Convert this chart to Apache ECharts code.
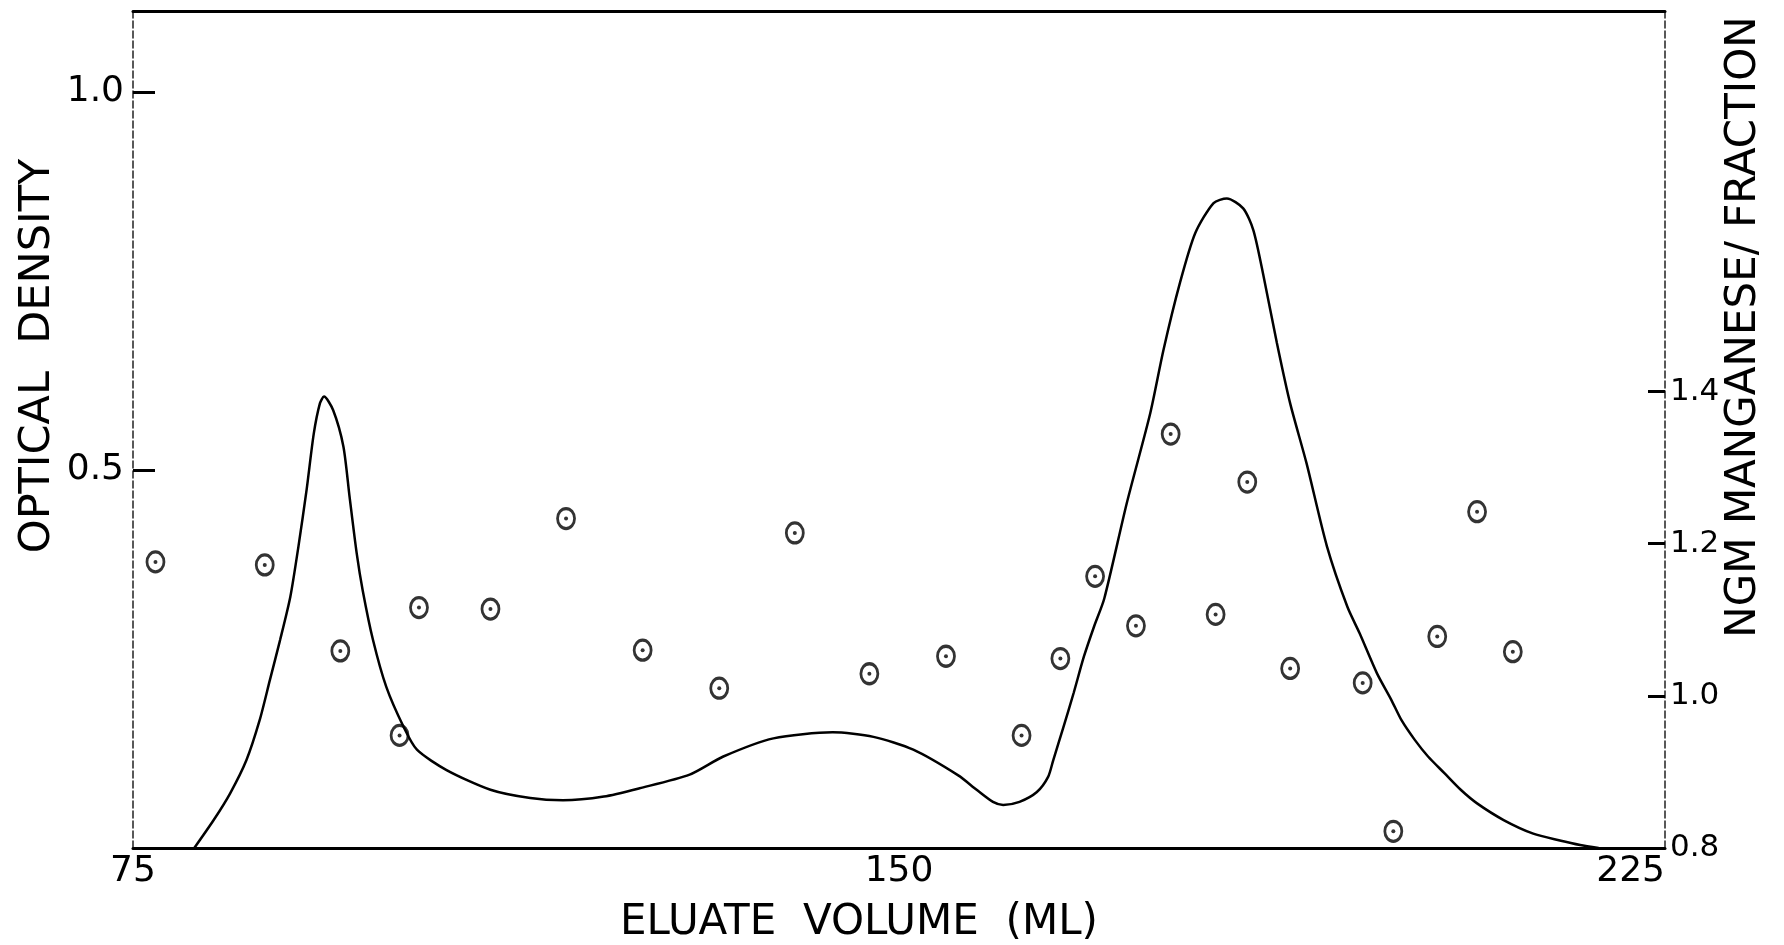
<!DOCTYPE html>
<html>
<head>
<meta charset="utf-8">
<title>Eluate volume</title>
<script src="https://cdn.jsdelivr.net/npm/echarts@6/dist/echarts.min.js"></script>
<style>
html, body { margin: 0; padding: 0; background: #fff; }
#chart { width: 1784px; height: 945px; }
</style>
</head>
<body>
<div id="chart"></div>
<script>
// optical density curve (left axis)
var odVolume = [81.0, 82.9, 84.5, 86.1, 87.4, 88.4, 89.4, 90.4, 91.2, 92.0, 92.7, 93.3, 93.7, 94.6, 95.6,
  96.2, 96.9, 97.5, 98.5, 99.8, 101.5, 102.8, 105.7, 110.0, 113.9, 117.1, 121.1, 124.6, 129.5, 132.8,
  137.7, 143.5, 147.5, 151.4, 155.8, 157.6, 159.2, 160.2, 161.8, 163.5, 164.6, 165.1, 166.1, 167.1,
  168.1, 169.1, 170.1, 172.3, 174.6, 175.9, 177.5, 179.0, 180.8, 182.1, 183.7, 184.7, 185.7, 187.0,
  188.3, 189.9, 191.9, 193.9, 195.1, 196.8, 198.2, 199.2, 200.5, 201.8, 203.4, 205.0, 206.6, 209.2,
  212.1, 214.7, 216.7, 218.5];
var odValue = [0, 0.037, 0.072, 0.116, 0.169, 0.222, 0.275, 0.332, 0.399, 0.474, 0.548, 0.588, 0.597, 0.579, 0.531,
  0.465, 0.390, 0.340, 0.275, 0.213, 0.160, 0.130, 0.103, 0.077, 0.066, 0.063, 0.068, 0.079, 0.097, 0.121,
  0.145, 0.153, 0.147, 0.130, 0.096, 0.077, 0.061, 0.057, 0.061, 0.074, 0.094, 0.116, 0.160, 0.205,
  0.253, 0.293, 0.330, 0.456, 0.575, 0.659, 0.747, 0.813, 0.853, 0.859, 0.846, 0.817, 0.756, 0.668,
  0.588, 0.509, 0.399, 0.319, 0.284, 0.231, 0.196, 0.169, 0.143, 0.121, 0.099, 0.077, 0.059, 0.037,
  0.019, 0.010, 0.004, 0];

// manganese per fraction (right axis)
var mnVolume = [77.2, 87.9, 95.3, 101.1, 103.0, 110.0, 117.4, 124.9, 132.4, 139.8, 147.1, 154.6, 162.0,
  165.8, 169.2, 173.2, 176.6, 181.0, 184.1, 188.3, 195.4, 198.4, 202.7, 206.6, 210.1];
var mnValue = [1.176, 1.172, 1.059, 0.948, 1.116, 1.114, 1.233, 1.060, 1.010, 1.214, 1.029, 1.052, 0.948,
  1.049, 1.157, 1.092, 1.344, 1.107, 1.281, 1.036, 1.017, 0.822, 1.078, 1.242, 1.058];

// tick labels
var xTicks = [75, 150, 225];
var odTicks = [0.5, 1.0];
var mnTicks = [0.8, 1.0, 1.2, 1.4];

var FONT = 'DejaVu Sans';

var odData = odVolume.map(function (v, i) { return [v, odValue[i]]; });
var mnData = mnVolume.map(function (v, i) { return [v, mnValue[i]]; });

var chart = echarts.init(document.getElementById('chart'));
chart.setOption({
  backgroundColor: '#fff',
  animation: false,
  grid: { left: 133, right: 119, top: 11, bottom: 97 },
  xAxis: [{
    type: 'value', min: 75, max: 225, interval: 75, position: 'bottom',
    axisLine: { lineStyle: { color: '#000', width: 3 } },
    axisTick: { show: false },
    splitLine: { show: false },
    axisLabel: {
      customValues: xTicks, margin: 6, color: '#000', fontFamily: FONT, fontSize: 36,
      alignMaxLabel: 'right'
    }
  }, {
    type: 'value', min: 75, max: 225, position: 'top',
    axisLine: { onZero: false, lineStyle: { color: '#000', width: 3 } },
    axisTick: { show: false }, axisLabel: { show: false }, splitLine: { show: false }
  }],
  yAxis: [{
    type: 'value', min: 0, max: 1.107, position: 'left',
    axisLine: { show: true, lineStyle: { color: '#222', width: 1.5, type: [7, 3] } },
    axisTick: { show: true, inside: true, length: 22, customValues: odTicks, lineStyle: { color: '#000', width: 3 } },
    splitLine: { show: false },
    axisLabel: {
      customValues: odTicks, margin: 9, color: '#000', fontFamily: FONT, fontSize: 36,
      formatter: function (v) { return v.toFixed(1); }
    }
  }, {
    type: 'value', min: 0.8, max: 1.9, interval: 0.2, position: 'right',
    axisLine: { show: true, lineStyle: { color: '#222', width: 1.5, type: [7, 3] } },
    axisTick: { show: true, inside: true, length: 17, customValues: mnTicks, lineStyle: { color: '#000', width: 3 } },
    splitLine: { show: false },
    axisLabel: {
      customValues: mnTicks, margin: 5, color: '#000', fontFamily: FONT, fontSize: 31,
      formatter: function (v) { return v.toFixed(1); }
    }
  }],
  series: [{
    type: 'line', xAxisIndex: 0, yAxisIndex: 0, data: odData,
    smooth: 0.25, showSymbol: false,
    lineStyle: { color: '#000', width: 2.5 }
  }, {
    type: 'scatter', xAxisIndex: 0, yAxisIndex: 1, data: mnData,
    symbol: 'circle', symbolSize: [17, 20],
    itemStyle: { color: 'rgba(0,0,0,0)', borderColor: '#000', borderWidth: 3 }
  }, {
    type: 'scatter', xAxisIndex: 0, yAxisIndex: 1, data: mnData,
    symbol: 'circle', symbolSize: 4,
    itemStyle: { color: '#000' }
  }],
  graphic: [{
    type: 'text', x: 38, y: 356, rotation: Math.PI / 2,
    style: { text: 'OPTICAL  DENSITY', fontFamily: FONT, fontSize: 43, fill: '#000', align: 'center', verticalAlign: 'middle' }
  }, {
    type: 'text', x: 1744, y: 327, rotation: Math.PI / 2,
    style: { text: 'NGM MANGANESE/ FRACTION', fontFamily: FONT, fontSize: 42, fill: '#000', align: 'center', verticalAlign: 'middle' }
  }, {
    type: 'text', x: 859, y: 923,
    style: { text: 'ELUATE  VOLUME  (ML)', fontFamily: FONT, fontSize: 42, fill: '#000', align: 'center', verticalAlign: 'middle' }
  }]
});
</script>
</body>
</html>
